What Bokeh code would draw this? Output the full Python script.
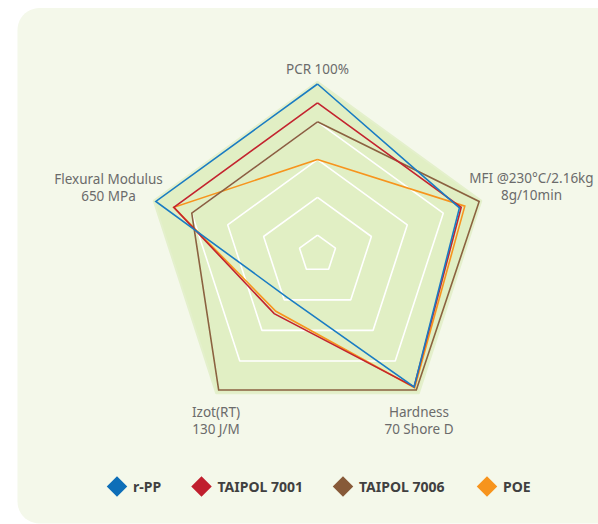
import numpy as np
from bokeh.plotting import figure
from bokeh.models import Range1d
from bokeh.core.properties import value
from bokeh.embed import file_html
from bokeh.resources import INLINE

# ---- data ----
axis_line1 = ["PCR 100%", "MFI @230°C/2.16kg", "Hardness", "Izot(RT)", "Flexural Modulus"]
axis_line2 = ["", "8g/10min", "70 Shore D", "130 J/M", "650 MPa"]
series_names = ["r-PP", "TAIPOL 7001", "TAIPOL 7006", "POE"]
r_pp = [100, 89, 97, 38, 100]
taipol_7001 = [90, 90, 97, 49, 90]
taipol_7006 = [80, 100, 99, 99, 80]
poe = [60, 92, 97.5, 47.5, 90]
grid_values = [20, 40, 60, 80]
scale_min, scale_max = 10, 100

# ---- styles / layout ----
line_colors = ["#1a7cc3", "#c3242f", "#8b6240", "#f7941d"]
legend_colors = ["#0d6eb8", "#c01f2e", "#875a38", "#f7941d"]
W, H = 598, 524
cx, cy, R = 317, 253.5, 170
angles = np.deg2rad([90, 18, -54, -126, 162])

def to_xy(vals):
    v = np.asarray(vals, dtype=float)
    r = (v - scale_min) / (scale_max - scale_min) * R
    x = cx + r * np.cos(angles)
    y = cy - r * np.sin(angles)
    return list(x) + [x[0]], list(y) + [y[0]]

p = figure(width=W, height=H, output_backend="svg", toolbar_location=None,
           x_range=Range1d(0, W), y_range=Range1d(H, 0),
           min_border=0, border_fill_color="white", background_fill_color="white")
p.axis.visible = False
p.xgrid.visible = False
p.ygrid.visible = False
p.outline_line_color = None

# panel with rounded left corners
rad = 22
left, top, right, bottom = 17, 7.5, 640, 523
t = np.linspace(0, np.pi / 2, 12)
px_tl = left + rad - rad * np.cos(t)
py_tl = top + rad - rad * np.sin(t)
px_bl = left + rad - rad * np.cos(t)
py_bl = bottom - rad + rad * np.sin(t)
panel_x = list(px_tl) + [right, right] + list(px_bl[::-1])
panel_y = list(py_tl) + [top, bottom] + list(py_bl[::-1])
p.patch(panel_x, panel_y, fill_color="#f4f8ea", line_color=None)

# outer green area
fx, fy = to_xy([scale_max + 1.2] * 5)
p.patch(fx, fy, fill_color="#e1efc4", line_color="#e4f0cc", line_width=2)

# grid rings
for gv in grid_values:
    gx, gy = to_xy([gv] * 5)
    p.line(gx, gy, line_color="white", line_width=1.6)

# series
all_series = [r_pp, taipol_7001, taipol_7006, poe]
for i in [3, 2, 1, 0]:
    sx, sy = to_xy(all_series[i])
    p.line(sx, sy, line_color=line_colors[i], line_width=1.6, line_join="miter")

# axis labels
label_x = [317, 531, 418.5, 215.5, 108]
label_y1 = [68.5, 177.5, 411, 411, 178.5]
label_y2 = [None, 194.5, 428, 428, 195]
lx1, ly1, lt1 = [], [], []
lx2, ly2, lt2 = [], [], []
for k in range(5):
    lx1.append(label_x[k]); ly1.append(label_y1[k]); lt1.append(axis_line1[k])
    if axis_line2[k]:
        lx2.append(label_x[k]); ly2.append(label_y2[k]); lt2.append(axis_line2[k])
for xs, ys, ts in [(lx1, ly1, lt1), (lx2, ly2, lt2)]:
    p.text(x=xs, y=ys, text=ts, text_font=value("Noto Sans"), text_font_size="13.5px",
           text_color="#6b6b6b", text_align="center", text_baseline="middle")

# legend
leg_x = [116.5, 201, 342.5, 486.5]
leg_y = 486
p.scatter(x=leg_x, y=[leg_y] * 4, marker="square", angle=np.pi / 4, size=14.5,
          fill_color=legend_colors, line_color=None)
p.text(x=[v + 16 for v in leg_x], y=[leg_y] * 4, text=series_names,
       text_font=value("Noto Sans"), text_font_size="14px", text_font_style="bold",
       text_color="#404040", text_align="left", text_baseline="middle")

open("out.html", "w").write(file_html(p, INLINE))
